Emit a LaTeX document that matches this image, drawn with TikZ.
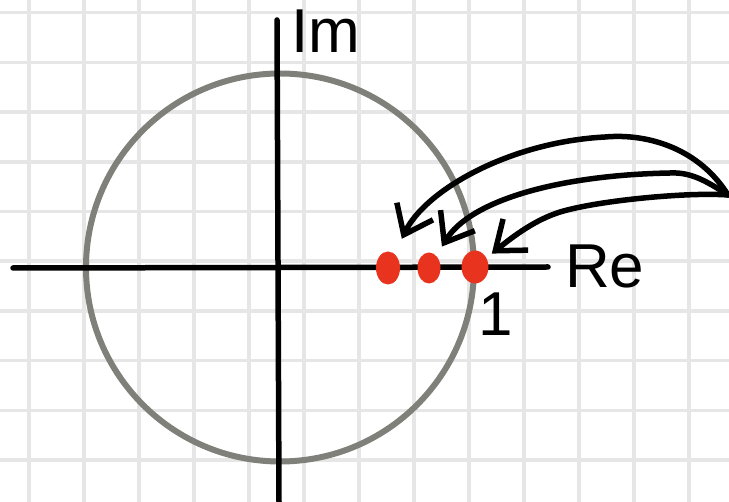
\documentclass[tikz,border=0pt]{standalone}
\usepackage{fontspec}
\setmainfont{Liberation Sans}
\usetikzlibrary{arrows.meta,shapes.geometric}
\definecolor{gridgray}{HTML}{E6E6E6}
\definecolor{circgray}{HTML}{80807B}
\definecolor{dotred}{HTML}{E8331E}

\begin{document}
\begin{tikzpicture}[x=1pt,y=-1pt,
        gridline/.style={draw=gridgray,line width=3.5pt},
        axis/.style={line width=5.5pt,line cap=round},
        unitcirc/.style={draw=circgray,line width=6pt},
        pole/.style={ellipse,fill=dotred,inner sep=0pt,outer sep=0pt},
        flow/.style={-{Straight Barb[length=26pt,width=40pt]},line width=5.5pt,line cap=round,line join=round},
        lbl/.style={inner sep=0pt,font=\fontsize{62}{62}\selectfont}]
        \useasboundingbox (0,0) rectangle (729,502);
        % squared paper
        \foreach \i in {0,...,12}
            \draw[gridline] (29+55*\i,0) -- (29+55*\i,502);
        \foreach \j in {0,...,9}
            \draw[gridline] (0,12.7+49.7*\j) -- (729,12.7+49.7*\j);
        % unit circle and axes
        \draw[unitcirc] (280,267.5) circle[radius=194];
        \coordinate (xl) at (13,268);
        \coordinate (xr) at (548,267);
        \coordinate (yt) at (277,20);
        \coordinate (yb) at (279,502);
        \draw[axis] (xl) -- (xr);
        \draw[axis] (yt) -- (yb);
        \node[lbl,anchor=base west] (imlbl) at (291,53) {Im};
        \node[lbl,anchor=base west] (relbl) at (565,288) {Re};
        \node[lbl,anchor=base] (onelbl) at (496,336) {1};
        % the three poles
        \node[pole,minimum width=24pt,minimum height=33pt] (dotA) at (388,268) {};
        \node[pole,minimum width=23pt,minimum height=31pt] (dotB) at (429,268) {};
        \node[pole,minimum width=27pt,minimum height=33pt] (dotC) at (475,267) {};
        \coordinate (src) at (728,195);
        \draw[flow,shorten >=17pt] (src) .. controls (700,150) and (650,133) .. (605,137)
            .. controls (510,142) and (425,190) .. (dotA);
        \draw[flow,shorten >=11pt] (src) .. controls (705,180) and (690,172) .. (670,173)
            .. controls (560,175) and (470,200) .. (dotB);
        \draw[flow,shorten >=7pt] (src) .. controls (690,192) and (600,200) .. (560,212)
            .. controls (535,220) and (515,235) .. (dotC);
    \end{tikzpicture}
\end{document}
